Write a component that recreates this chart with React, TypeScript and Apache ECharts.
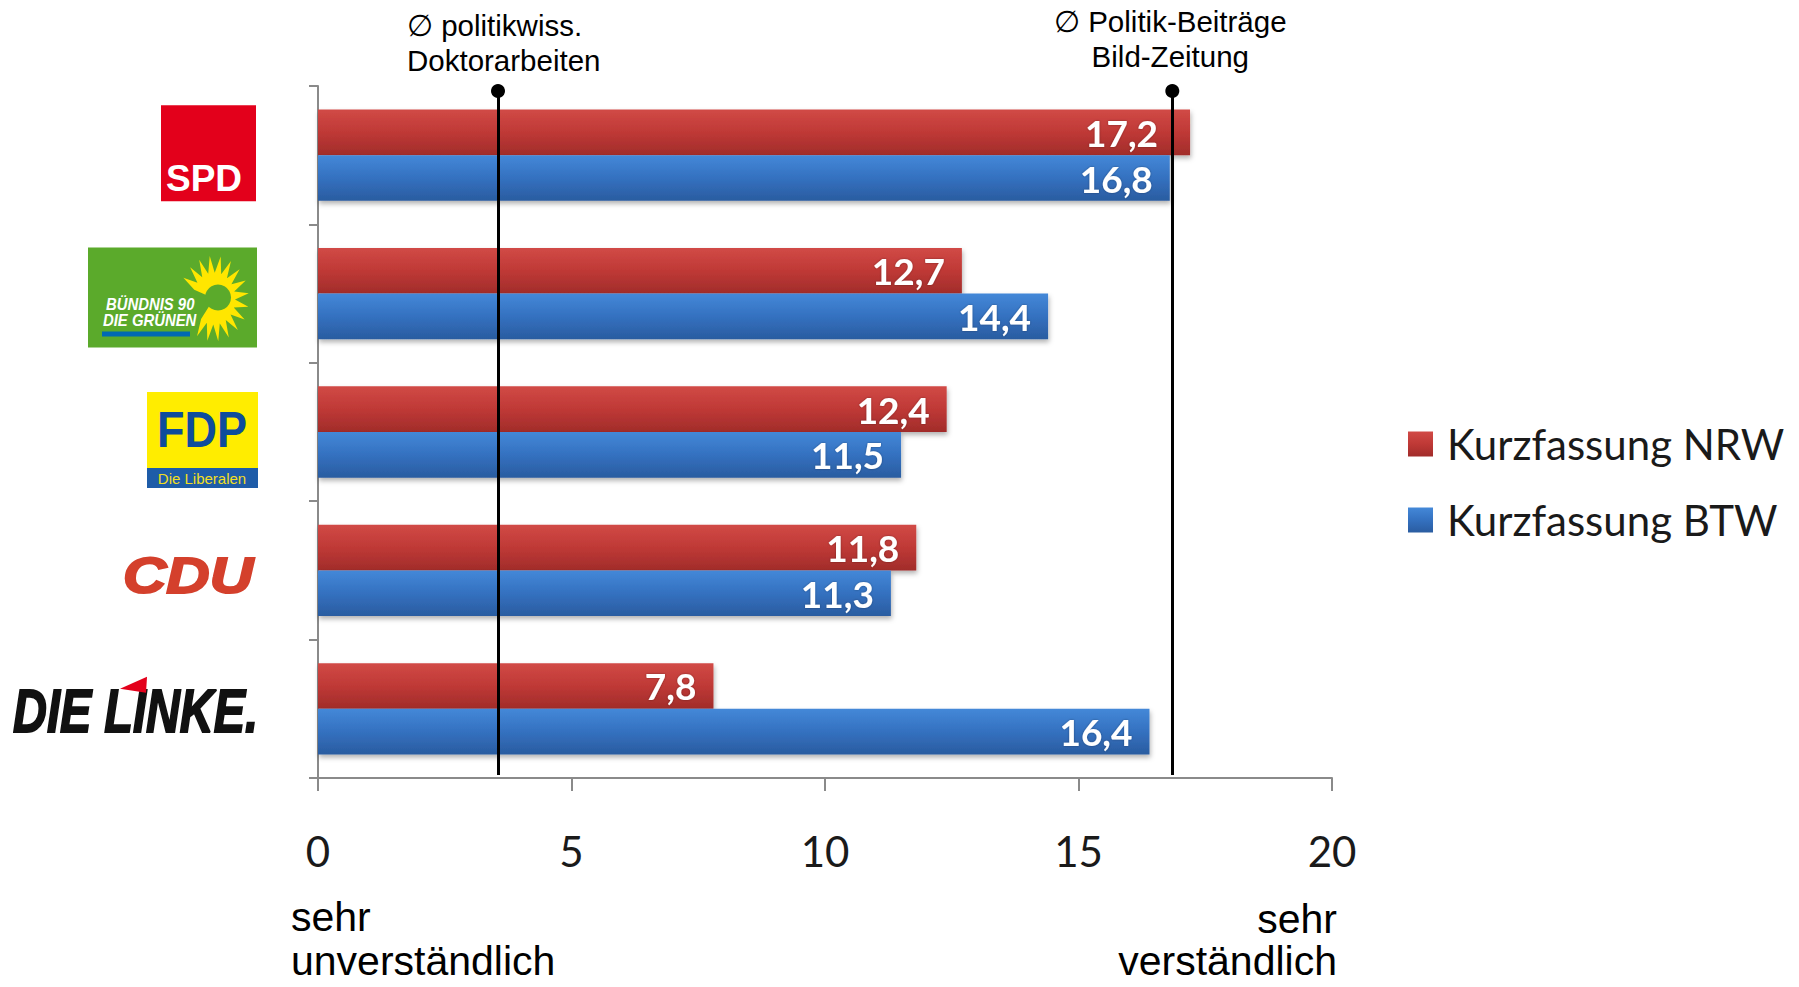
import React, { useEffect, useRef } from 'react';
import * as echarts from 'echarts';

const categories = ['SPD', 'Bündnis 90/Die Grünen', 'FDP', 'CDU', 'Die Linke'];
const seriesNames = ['Kurzfassung NRW', 'Kurzfassung BTW'];
const nrwValues = [17.2, 12.7, 12.4, 11.8, 7.8];
const btwValues = [16.8, 14.4, 11.5, 11.3, 16.4];
const xTicks = [0, 5, 10, 15, 20];
const refValues = [3.55, 16.85];
const refLabels = ['∅ politikwiss.\nDoktorarbeiten', '∅ Politik-Beiträge\nBild-Zeitung'];
const scaleLabelsLeft = ['sehr', 'unverständlich'];
const scaleLabelsRight = ['sehr', 'verständlich'];

const fmt = (v: number) => v.toFixed(1).replace('.', ',');

const redGrad = () =>
  new echarts.graphic.LinearGradient(0, 0, 0, 1, [
    { offset: 0, color: '#d14a46' },
    { offset: 0.5, color: '#bf3936' },
    { offset: 1, color: '#a12c2a' },
  ]);
const blueGrad = () =>
  new echarts.graphic.LinearGradient(0, 0, 0, 1, [
    { offset: 0, color: '#4488d8' },
    { offset: 0.5, color: '#3471c0' },
    { offset: 1, color: '#2a5ca0' },
  ]);

const LOGO_FONT = '"Liberation Sans", Arial, sans-serif';

function sunflowerPoints(cx: number, cy: number, rx: number, ry: number) {
  const pts: number[][] = [[cx, cy]];
  const start = 200;
  const end = 488;
  const petals = 16;
  const step = (end - start) / petals;
  for (let k = 0; k <= petals * 2; k++) {
    const a = ((start + (k * step) / 2) * Math.PI) / 180;
    const f = k % 2 === 1 ? 1 : 0.6;
    pts.push([cx + Math.cos(a) * rx * f, cy + Math.sin(a) * ry * f]);
  }
  return pts;
}

function logoChildren(i: number): any[] {
  if (i === 0) {
    return [
      { type: 'rect', shape: { x: -157, y: -50, width: 95, height: 96 }, style: { fill: '#E3001B' } },
      {
        type: 'text', x: -152, y: 23,
        style: { text: 'SPD', fill: '#ffffff', font: `bold 37px ${LOGO_FONT}`, align: 'left', verticalAlign: 'middle' },
      },
    ];
  }
  if (i === 1) {
    return [
      { type: 'rect', shape: { x: -230, y: -46, width: 169, height: 100 }, style: { fill: '#5BAA2B' } },
      { type: 'polygon', shape: { points: sunflowerPoints(-104, 5, 35, 43) }, style: { fill: '#FFE600' } },
      { type: 'circle', shape: { cx: -100, cy: 4, r: 13 }, style: { fill: '#5BAA2B' } },
      {
        type: 'text', x: -212, y: 10.5, scaleX: 0.93,
        style: { text: 'BÜNDNIS 90', fill: '#ffffff', font: `italic bold 16px ${LOGO_FONT}`, align: 'left', verticalAlign: 'middle' },
      },
      {
        type: 'text', x: -215, y: 26.5, scaleX: 0.93,
        style: { text: 'DIE GRÜNEN', fill: '#ffffff', font: `italic bold 16px ${LOGO_FONT}`, align: 'left', verticalAlign: 'middle' },
      },
      { type: 'rect', shape: { x: -216, y: 38, width: 88, height: 5 }, style: { fill: '#0069B4' } },
    ];
  }
  if (i === 2) {
    return [
      { type: 'rect', shape: { x: -171, y: -40, width: 111, height: 77 }, style: { fill: '#FFED00' } },
      { type: 'rect', shape: { x: -171, y: 36, width: 111, height: 20 }, style: { fill: '#1E5CA8' } },
      {
        type: 'text', x: -161, y: -2, scaleX: 0.9,
        style: { text: 'FDP', fill: '#0E4C9C', font: `bold 50px ${LOGO_FONT}`, align: 'left', verticalAlign: 'middle' },
      },
      {
        type: 'text', x: -116, y: 46,
        style: { text: 'Die Liberalen', fill: '#F2DF1E', font: `15px ${LOGO_FONT}`, align: 'center', verticalAlign: 'middle' },
      },
    ];
  }
  if (i === 3) {
    return [
      {
        type: 'text', x: -195, y: 5, scaleX: 1.2,
        style: {
          text: 'CDU', fill: '#D4402C', stroke: '#D4402C', lineWidth: 2,
          font: `italic bold 50px ${LOGO_FONT}`, align: 'left', verticalAlign: 'middle',
        },
      },
    ];
  }
  return [
    {
      type: 'text', x: -305, y: 2, scaleX: 0.757,
      style: {
        text: 'DIE LINKE.', fill: '#111111', stroke: '#111111', lineWidth: 2,
        font: `italic bold 62px ${LOGO_FONT}`, align: 'left', verticalAlign: 'middle',
      },
    },
    {
      type: 'polygon',
      shape: { points: [[-198, -20], [-171, -32], [-172, -16]] },
      style: { fill: '#E3001B' },
    },
  ];
}

export default function App() {
  const ref = useRef<HTMLDivElement>(null);

  useEffect(() => {
    if (!ref.current) return;
    const chart = echarts.init(ref.current, null, { renderer: 'svg' });

    const barLabel = {
      show: true,
      position: 'insideRight',
      distance: 17,
      color: '#ffffff',
      fontFamily: 'Lato',
      fontWeight: 'bold',
      fontSize: 37,
      textShadowColor: 'rgba(0,0,0,0.35)',
      textShadowBlur: 2,
      formatter: (p: any) => fmt(p.value),
    };
    const barShadow = {
      shadowColor: 'rgba(0,0,0,0.3)',
      shadowBlur: 5,
      shadowOffsetY: 3,
      shadowOffsetX: 1,
    };

    const option: any = {
      animation: false,
      backgroundColor: '#ffffff',
      textStyle: { fontFamily: 'Lato' },
      grid: { left: 318, top: 86, width: 1014, height: 692, containLabel: false },
      legend: {
        orient: 'vertical',
        left: 1403,
        top: 418,
        icon: 'rect',
        itemWidth: 25,
        itemHeight: 25,
        itemGap: 34,
        selectedMode: false,
        data: seriesNames,
        textStyle: { fontFamily: 'Lato', fontSize: 42, color: '#1a1a1a', lineHeight: 42, padding: [0, 0, 0, 9] },
      },
      xAxis: {
        type: 'value',
        min: xTicks[0],
        max: xTicks[xTicks.length - 1],
        interval: xTicks[1] - xTicks[0],
        axisLine: { show: true, lineStyle: { color: '#8a8a8a', width: 2 } },
        axisTick: { show: true, length: 13, lineStyle: { color: '#8a8a8a', width: 2 } },
        splitLine: { show: false },
        axisLabel: { fontFamily: 'Lato', fontSize: 42, color: '#1a1a1a', margin: 52 },
      },
      yAxis: {
        type: 'category',
        inverse: true,
        data: categories,
        axisLine: { show: true, lineStyle: { color: '#8a8a8a', width: 2 } },
        axisTick: { show: true, length: 9, lineStyle: { color: '#8a8a8a', width: 2 } },
        axisLabel: { show: false },
        splitLine: { show: false },
      },
      series: [
        {
          name: seriesNames[0],
          type: 'bar',
          data: nrwValues.map((v, i) => (i === 0 ? { value: v, label: { distance: 32 } } : v)),
          barGap: '0%',
          barCategoryGap: '34%',
          itemStyle: { color: redGrad(), ...barShadow },
          label: barLabel,
          markLine: {
            silent: true,
            symbol: ['circle', 'none'],
            symbolSize: 14,
            lineStyle: { color: '#000000', width: 3, type: 'solid' },
            label: { show: false },
            emphasis: { disabled: true },
            data: refValues.map((v) => [
              { xAxis: v, y: 91 },
              { xAxis: v, y: 775 },
            ]),
          },
        },
        {
          name: seriesNames[1],
          type: 'bar',
          data: btwValues,
          barGap: '0%',
          barCategoryGap: '34%',
          itemStyle: { color: blueGrad(), ...barShadow },
          label: barLabel,
        },
      ],
    };

    chart.setOption(option);

    const x0 = chart.convertToPixel({ xAxisIndex: 0 }, xTicks[0]) as number;
    const x20 = chart.convertToPixel({ xAxisIndex: 0 }, xTicks[xTicks.length - 1]) as number;
    const rx1 = chart.convertToPixel({ xAxisIndex: 0 }, refValues[0]) as number;
    const rx2 = chart.convertToPixel({ xAxisIndex: 0 }, refValues[1]) as number;

    const elements: any[] = [];
    categories.forEach((c, i) => {
      const yc = chart.convertToPixel({ yAxisIndex: 0 }, c) as number;
      elements.push({ type: 'group', x: x0, y: yc, children: logoChildren(i) });
    });

    const annFont = '29.5px "Liberation Sans", Arial, sans-serif';
    elements.push({
      type: 'text', x: rx1 - 91, y: 8,
      style: { text: refLabels[0], fill: '#000000', font: annFont, lineHeight: 35, align: 'left', verticalAlign: 'top' },
    });
    elements.push({
      type: 'text', x: rx2 - 2, y: 4,
      style: { text: refLabels[1], fill: '#000000', font: annFont, lineHeight: 35, align: 'center', verticalAlign: 'top' },
    });

    const scaleFont = '41px "Liberation Sans", Arial, sans-serif';
    const leftY = [917, 961];
    const rightY = [919, 961];
    scaleLabelsLeft.forEach((t, k) => {
      elements.push({
        type: 'text', x: x0 - 27, y: leftY[k],
        style: { text: t, fill: '#000000', font: scaleFont, align: 'left', verticalAlign: 'middle' },
      });
    });
    scaleLabelsRight.forEach((t, k) => {
      elements.push({
        type: 'text', x: x20 + 5, y: rightY[k],
        style: { text: t, fill: '#000000', font: scaleFont, align: 'right', verticalAlign: 'middle' },
      });
    });

    chart.setOption({ graphic: elements });

    return () => chart.dispose();
  }, []);

  return (
    <div
      ref={ref}
      style={{ position: 'absolute', left: 0, top: 0, width: 1799, height: 987, background: '#ffffff' }}
    />
  );
}
